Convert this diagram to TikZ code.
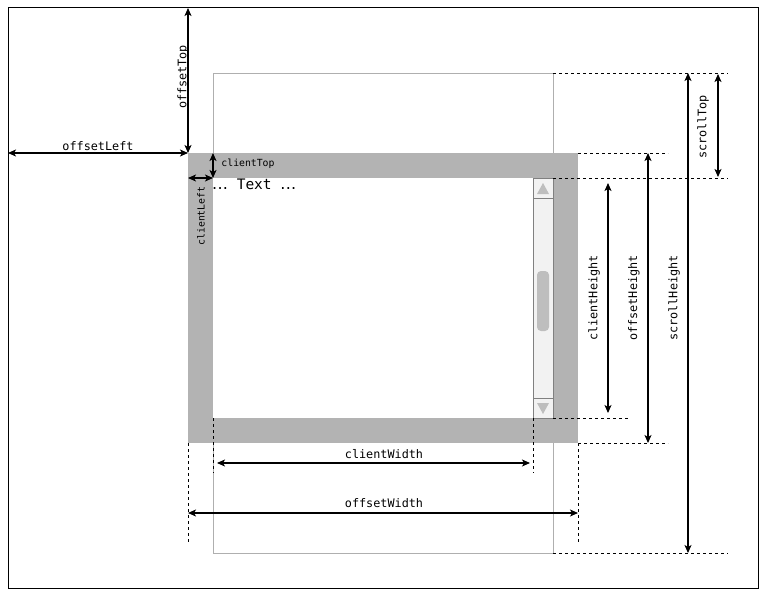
\documentclass[tikz,border=0pt]{standalone}
\usepackage{fontspec}
\newfontfamily\monof{DejaVu Sans Mono}
\newfontfamily\sansf{DejaVu Sans}
\usetikzlibrary{arrows.meta}
\definecolor{bordergray}{RGB}{179,179,179}
\definecolor{areagray}{RGB}{175,175,175}
\definecolor{trackgray}{RGB}{242,242,242}
\definecolor{trackline}{RGB}{128,128,128}
\definecolor{thumbgray}{RGB}{190,190,190}
\begin{document}
\begin{tikzpicture}[x=1pt,y=-1pt,
  tipk/.tip={Stealth[length=8pt,width=7pt,inset=2pt]},
  dim/.style={line width=1.1pt,tipk-tipk},
  ext/.style={line width=0.8pt,dash pattern=on 3pt off 3pt},
  lbl/.style={font=\monof\fontsize{11.8}{12}\selectfont,inner sep=0pt},
  slbl/.style={font=\monof\fontsize{9.8}{10}\selectfont,inner sep=0pt},
  vlbl/.style={lbl,rotate=90},
  vslbl/.style={slbl,rotate=90}]
\useasboundingbox (0,0) rectangle (760,591);
\fill[white] (0,0) rectangle (760,591);
% frame
\draw[line width=1pt] (8,8) rectangle (758,588);
% scroll area
\draw[areagray,line width=0.8pt] (213,73) rectangle (553,553);
% element with border
\fill[bordergray] (188,153) rectangle (578,443);
\fill[white] (213,178) rectangle (553,418);
% scrollbar
\draw[fill=trackgray,draw=trackline,line width=0.8pt] (533,178) rectangle (553,418);
\draw[trackline,line width=0.8pt] (533,198) -- (553,198);
\draw[trackline,line width=0.8pt] (533,398) -- (553,398);
\fill[thumbgray,rounded corners=4pt] (537,271) rectangle (549,331);
\fill[thumbgray] (537,194) -- (549,194) -- (543,183) -- cycle;
\fill[thumbgray] (537,403) -- (549,403) -- (543,414) -- cycle;
% text
\node[anchor=base west,inner sep=0pt] (txt) at (212,189)
  {{\sansf\fontsize{16}{16}\selectfont .\kern0.3pt.\kern0.3pt.}{\monof\fontsize{14.5}{15}\selectfont\ Text\ }{\sansf\fontsize{16}{16}\selectfont .\kern0.3pt.\kern0.3pt.}};
% extension lines
\draw[ext] (553,73) -- (728,73);
\draw[ext] (578,153) -- (668,153);
\draw[ext] (553,178) -- (728,178);
\draw[ext] (553,418) -- (628,418);
\draw[ext] (578,443) -- (668,443);
\draw[ext] (553,553) -- (728,553);
\draw[ext] (188,443) -- (188,543);
\draw[ext] (213,418) -- (213,473);
\draw[ext] (533,418) -- (533,473);
\draw[ext] (578,443) -- (578,543);
% coordinates
\coordinate (otA) at (188,8);   \coordinate (otB) at (188,153);
\coordinate (olA) at (8,153);   \coordinate (olB) at (188,153);
\coordinate (ctA) at (213,153); \coordinate (ctB) at (213,178);
\coordinate (clA) at (188,178); \coordinate (clB) at (213,178);
\coordinate (stA) at (718,74);  \coordinate (stB) at (718,177);
\coordinate (chA) at (608,183); \coordinate (chB) at (608,413);
\coordinate (ohA) at (648,153); \coordinate (ohB) at (648,443);
\coordinate (shA) at (688,73);  \coordinate (shB) at (688,553);
\coordinate (cwA) at (217,463); \coordinate (cwB) at (530,463);
\coordinate (owA) at (188,513); \coordinate (owB) at (578,513);
% dimension arrows
\draw[dim] (otA) -- (otB);
\draw[dim] (olA) -- (olB);
\draw[dim] (ctA) -- (ctB);
\draw[dim] (clA) -- (clB);
\draw[dim] (stA) -- (stB);
\draw[dim] (chA) -- (chB);
\draw[dim] (ohA) -- (ohB);
\draw[dim] (shA) -- (shB);
\draw[dim] (cwA) -- (cwB);
\draw[dim] (owA) -- (owB);
% labels
\node[vlbl] (lot) at (183,77) {offsetTop};
\node[lbl] (lol) at (98,146) {offsetLeft};
\node[slbl] (lct) at (248,164) {clientTop};
\node[vslbl] (lcl) at (201,216) {clientLeft};
\node[vlbl] (lst) at (703,127) {scrollTop};
\node[vlbl] (lch) at (594,298) {clientHeight};
\node[vlbl] (loh) at (634,298) {offsetHeight};
\node[vlbl] (lsh) at (674,298) {scrollHeight};
\node[lbl] (lcw) at (384,454) {clientWidth};
\node[lbl] (low) at (384,503) {offsetWidth};
\end{tikzpicture}
\end{document}
